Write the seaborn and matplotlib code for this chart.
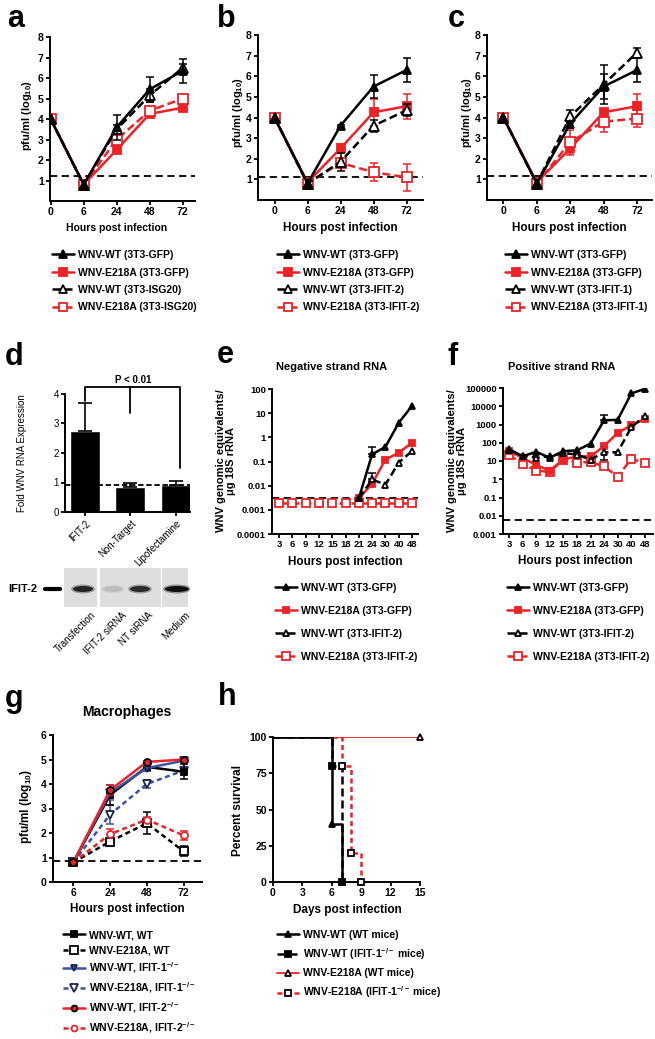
import numpy as np
import seaborn as sns
import matplotlib.pyplot as plt
from matplotlib.lines import Line2D
from matplotlib.patches import Rectangle, Ellipse
from matplotlib.ticker import NullLocator

W, H = 655, 1039
nan = np.nan

# ---------------- data ----------------
# panels a-c: virus titre (log10 pfu/ml)
hpi_abc = ['0', '6', '24', '48', '72']

a_wt_gfp = [4.0, 0.8, 3.6, 5.45, 6.35]
a_wt_gfp_err = [0, 0, 0.6, 0.6, 0.6]
a_e218a_gfp = [4.0, 0.8, 2.5, 4.25, 4.55]
a_e218a_gfp_err = [0, 0, 0.1, 0.1, 0.1]
a_wt_isg20 = [4.0, 0.8, 3.5, 5.15, 6.5]
a_wt_isg20_err = [0, 0, 0.2, 0.3, 0.2]
a_e218a_isg20 = [4.0, 0.8, 3.0, 4.4, 5.0]
a_e218a_isg20_err = [0, 0, 0.2, 0.2, 0.15]

b_wt_gfp = [4.0, 0.8, 3.6, 5.5, 6.3]
b_wt_gfp_err = [0, 0, 0.05, 0.55, 0.6]
b_e218a_gfp = [4.0, 0.85, 2.5, 4.25, 4.55]
b_e218a_gfp_err = [0, 0, 0.2, 0.65, 0.6]
b_wt_ifit2 = [4.0, 0.8, 1.85, 3.6, 4.35]
b_wt_ifit2_err = [0, 0, 0.45, 0.3, 0.3]
b_e218a_ifit2 = [4.0, 0.8, 1.8, 1.35, 1.1]
b_e218a_ifit2_err = [0, 0, 0.2, 0.45, 0.65]

c_wt_gfp = [4.0, 0.8, 3.7, 5.5, 6.3]
c_wt_gfp_err = [0, 0, 0.1, 0.6, 0.6]
c_e218a_gfp = [4.0, 0.85, 2.5, 4.25, 4.55]
c_e218a_gfp_err = [0, 0, 0.2, 0.1, 0.6]
c_wt_ifit1 = [4.0, 0.8, 4.05, 5.6, 7.15]
c_wt_ifit1_err = [0, 0, 0.3, 0.95, 0.2]
c_e218a_ifit1 = [4.0, 0.8, 2.8, 3.8, 3.95]
c_e218a_ifit1_err = [0, 0, 0.6, 0.5, 0.4]

lod_a, lod_b, lod_c = 1.2, 1.1, 1.15

# panel d: siRNA knockdown
d_cats = ['IFIT-2', 'Non-Target', 'Lipofectamine']
d_vals = [2.75, 0.85, 0.92]
d_err = [0.95, 0.12, 0.12]
d_ref = 0.9
blot_lanes = ['Transfection', 'IFIT-2 siRNA', 'NT siRNA', 'Medium']
blot_band = [0.85, 0.12, 0.8, 1.0]

# panels e-f: strand-specific RNA
hpi_ef = ['3', '6', '9', '12', '15', '18', '21', '24', '30', '40', '48']
e_wt_gfp = [nan, nan, nan, nan, nan, nan, 0.003, 0.2, 0.4, 4.0, 20.0]
e_e218a_gfp = [nan, nan, nan, nan, nan, nan, 0.003, 0.012, 0.12, 0.23, 0.6]
e_wt_ifit2 = [nan, nan, nan, nan, nan, nan, 0.003, 0.018, 0.011, 0.09, 0.27]
e_e218a_ifit2 = [0.002, 0.002, 0.002, 0.002, 0.002, 0.002, 0.002, 0.002, 0.002, 0.002, 0.002]
e_wt_gfp_up = [0, 0, 0, 0, 0, 0, 0, 0.2, 0, 0, 0]
e_wt_ifit2_up = [0, 0, 0, 0, 0, 0, 0, 0.017, 0, 0, 0]
lod_e = 0.003

f_wt_gfp = [45, 18, 32, 15, 35, 38, 90, 1700, 1800, 50000, 90000]
f_e218a_gfp = [35, 15, 6, 3, 12, 18, 18, 65, 350, 900, 2000]
f_wt_ifit2 = [40, 20, 15, 18, 28, 22, 12, 30, 30, 700, 3000]
f_e218a_ifit2 = [22, 7, 3, 2.5, 12, 8, 9, 5, 1.4, 13, 8]
f_wt_gfp_up = [0, 0, 0, 0, 0, 0, 0, 1800, 0, 0, 0]
f_wt_ifit2_lo = [0, 0, 0, 0, 0, 0, 0, 18, 0, 0, 0]
f_wt_ifit2_up = [0, 0, 0, 0, 0, 0, 0, 30, 0, 0, 0]
lod_f = 0.006

# panel g: macrophages
hpi_g = ['6', '24', '48', '72']
g_wt_wt = [0.8, 3.55, 4.7, 4.5]
g_wt_wt_err = [0, 0.4, 0.15, 0.3]
g_e218a_wt = [0.8, 1.65, 2.4, 1.25]
g_e218a_wt_err = [0, 0.1, 0.45, 0.2]
g_wt_ifit1 = [0.8, 3.65, 4.65, 4.95]
g_wt_ifit1_err = [0, 0.3, 0.1, 0.1]
g_e218a_ifit1 = [0.8, 2.75, 4.0, 4.55]
g_e218a_ifit1_err = [0, 0.4, 0.15, 0.1]
g_wt_ifit2 = [0.8, 3.75, 4.9, 5.0]
g_wt_ifit2_err = [0, 0.2, 0.05, 0.05]
g_e218a_ifit2 = [0.8, 1.95, 2.55, 1.9]
g_e218a_ifit2_err = [0, 0.2, 0.1, 0.2]
lod_g = 0.85

# panel h: survival
h_wt_wt_days, h_wt_wt_surv = [0, 6, 7], [100, 40, 0]
h_wt_ko_days, h_wt_ko_surv = [0, 6, 7], [100, 80, 0]
h_e_wt_days, h_e_wt_surv = [0, 15], [100, 100]
h_e_ko_days, h_e_ko_surv = [0, 7, 8, 9], [100, 80, 20, 0]

# ---------------- style ----------------
sns.set_style('ticks', {'axes.edgecolor': 'black', 'xtick.color': 'black',
                        'ytick.color': 'black', 'text.color': 'black',
                        'axes.labelcolor': 'black'})
plt.rcParams['font.family'] = ['Liberation Sans', 'DejaVu Sans']
plt.rcParams['font.weight'] = 'bold'
plt.rcParams['mathtext.fontset'] = 'custom'
plt.rcParams['mathtext.rm'] = 'Liberation Sans:bold'
plt.rcParams['mathtext.it'] = 'Liberation Sans:bold'
plt.rcParams['mathtext.bf'] = 'Liberation Sans:bold'
plt.rcParams['axes.linewidth'] = 1.4

RED = '#ec2227'
BLUE = '#3a53a4'
DASH = (0, (3.2, 1.6))
DOT = (0, (2, 1.4))

fig = plt.figure(figsize=(W / 100, H / 100), dpi=100)


def panel_axes(l, t, r, b, fs=7.5):
    ax = fig.add_axes([l / W, 1 - b / H, (r - l) / W, (b - t) / H])
    sns.despine(ax=ax)
    ax.tick_params(direction='out', length=3, width=1.3, labelsize=fs, pad=1.5)
    return ax


def ftext(x, y, s, **kw):
    kw.setdefault('ha', 'center')
    kw.setdefault('va', 'center')
    fig.text(x / W, 1 - y / H, s, **kw)


def letter(x, y, s):
    fig.text(x / W, 1 - y / H, s, fontsize=22, va='baseline', ha='left')


def series(ax, y, color, ls, marker, filled, label, err=None, ms=6, lw=1.8, mec=None, z=2):
    y = np.asarray(y, dtype=float)
    x = np.arange(len(y))
    sns.lineplot(x=x, y=y, ax=ax, color=color, linestyle=ls, linewidth=lw,
                 marker=marker, markersize=ms,
                 markerfacecolor=color if filled else 'white',
                 markeredgecolor=mec or color, markeredgewidth=1.3,
                 label=label, zorder=z, errorbar=None)
    if err is not None:
        lo, hi = err if isinstance(err, tuple) else (err, err)
        lo = np.asarray(lo, float)
        hi = np.asarray(hi, float)
        keep = (lo + hi) > 0
        ax.errorbar(x[keep], y[keep], yerr=[lo[keep], hi[keep]], fmt='none',
                    ecolor=color, elinewidth=1.1, capsize=3, capthick=1.1,
                    zorder=z - 0.5, label='_nolegend_')


def put_legend(ax, x, y, spacing, fs=7.5, handles=None, labels=None):
    if handles is None:
        handles, labels = ax.get_legend_handles_labels()
    ax.legend(handles, labels, loc='upper left',
              bbox_to_anchor=(x / W, 1 - y / H), bbox_transform=fig.transFigure,
              frameon=False, fontsize=fs, labelspacing=spacing,
              handlelength=2.1, handletextpad=0.35, borderpad=0,
              borderaxespad=0, numpoints=1, markerscale=0.85)


# ---------------- panels a-c ----------------
abc = [
    ('a', (50, 37, 195, 201), (-0.02, 4.37), lod_a, 'ISG20',
     [a_wt_gfp, a_e218a_gfp, a_wt_isg20, a_e218a_isg20],
     [a_wt_gfp_err, a_e218a_gfp_err, a_wt_isg20_err, a_e218a_isg20_err],
     (7, 27), (27, 115), (117, 228, 7.5), 52),
    ('b', (258, 35, 423, 200), (-0.5, 4.5), lod_b, 'IFIT-2',
     [b_wt_gfp, b_e218a_gfp, b_wt_ifit2, b_e218a_ifit2],
     [b_wt_gfp_err, b_e218a_gfp_err, b_wt_ifit2_err, b_e218a_ifit2_err],
     (217, 27), (238, 112), (340, 228, 8.5), 277),
    ('c', (487, 35, 652, 200), (-0.49, 4.45), lod_c, 'IFIT-1',
     [c_wt_gfp, c_e218a_gfp, c_wt_ifit1, c_e218a_ifit1],
     [c_wt_gfp_err, c_e218a_gfp_err, c_wt_ifit1_err, c_e218a_ifit1_err],
     (448, 27), (467, 112), (569, 228, 8.5), 505),
]
for name, box, xl, lod, cell, vals, errs, lpos, ypos, xpos, legx in abc:
    ax = panel_axes(*box)
    series(ax, vals[0], 'black', '-', '^', True, 'WNV-WT (3T3-GFP)', errs[0], z=5)
    series(ax, vals[1], RED, '-', 's', True, 'WNV-E218A (3T3-GFP)', errs[1], z=3)
    series(ax, vals[2], 'black', DASH, '^', False, f'WNV-WT (3T3-{cell})', errs[2], ms=7, z=4)
    series(ax, vals[3], RED, DASH, 's', False, f'WNV-E218A (3T3-{cell})', errs[3], ms=7, z=3)
    ax.axhline(lod, color='black', ls=(0, (4, 2.5)), lw=1.3, zorder=1)
    ax.set_xlim(*xl)
    ax.set_ylim(0, 8)
    ax.set_xticks(range(len(hpi_abc)))
    ax.set_xticklabels(hpi_abc)
    ax.set_yticks(range(1, 9))
    ax.set_xlabel('')
    ax.set_ylabel('')
    letter(lpos[0], lpos[1], name)
    ftext(ypos[0], ypos[1], 'pfu/ml (log$_{10}$)', rotation=90, fontsize=8)
    ftext(xpos[0], xpos[1], 'Hours post infection', fontsize=xpos[2])
    put_legend(ax, legx, 250, 0.72)

# ---------------- panel d ----------------
ax = panel_axes(65, 394, 190, 512)
sns.barplot(x=d_cats, y=d_vals, color='black', width=0.66, saturation=1,
            errorbar=None, ax=ax)
ax.errorbar(range(len(d_vals)), d_vals, yerr=[[0] * len(d_err), d_err], fmt='none',
            ecolor='black', elinewidth=1.2, capsize=5, capthick=1.2)
ax.axhline(d_ref, color='black', ls=(0, (3, 1.5)), lw=1.3)
ax.plot([0, 0, 2.1, 2.1], [3.75, 4.25, 4.25, 1.5], color='black', lw=1.3, clip_on=False)
ax.plot([1, 1], [4.25, 3.35], color='black', lw=1.3, clip_on=False)
ax.set_xlim(-0.44, 2.31)
ax.set_ylim(0, 4)
ax.set_yticks(range(0, 5))
ax.set_xticks(range(len(d_cats)))
ax.set_xticklabels(d_cats, rotation=45, ha='right', rotation_mode='anchor',
                   fontsize=7, fontweight='normal')
plt.setp(ax.get_yticklabels(), fontweight='normal', fontsize=7)
ax.set_xlabel('')
ax.set_ylabel('')
letter(5, 365, 'd')
ftext(133, 380, 'P < 0.01', fontsize=7)
ftext(22, 453, 'Fold WNV RNA Expression', rotation=90, fontsize=7, fontweight='normal')

# western blot strip
axb = fig.add_axes([63 / W, 1 - 608 / H, 127 / W, 42 / H])
axb.set_xlim(63, 190)
axb.set_ylim(608, 566)
axb.axis('off')
for x0, wd in [(64, 33), (100, 61), (162, 26)]:
    axb.add_patch(Rectangle((x0, 568), wd, 39, facecolor='#dedede', edgecolor='none'))
lane_x = [83, 113, 140, 177]
for lx, inten, lab in zip(lane_x, blot_band, blot_lanes):
    bw = 24 if lab == 'Medium' else 20
    axb.add_patch(Ellipse((lx, 589), bw + 4, 9, facecolor='black', alpha=inten * 0.35,
                          edgecolor='none'))
    axb.add_patch(Ellipse((lx, 589), bw, 6, facecolor='black', alpha=inten * 0.9,
                          edgecolor='none'))
    axb.text(lx + 8, 610, lab, rotation=45, ha='right', va='top', rotation_mode='anchor',
             fontsize=7, fontweight='normal', clip_on=False)
ftext(8, 589, 'IFIT-2', ha='left', fontsize=8)
fig.add_artist(Line2D([45 / W, 60 / W], [1 - 589 / H, 1 - 589 / H], color='black', lw=3))

# ---------------- panels e-f ----------------
ef = [
    ('e', (272, 389, 418, 534), (-0.53, 10.45), (1e-4, 100), lod_e,
     [e_wt_gfp, e_e218a_gfp, e_wt_ifit2, e_e218a_ifit2],
     [(np.zeros(11), e_wt_gfp_up), None, (np.zeros(11), e_wt_ifit2_up), None],
     ['0.0001', '0.001', '0.01', '0.1', '1', '10', '100'],
     'Negative strand RNA', (217, 363), (332, 367), (226, 461), (345, 562), 275),
    ('f', (503, 388, 653, 534), (-0.44, 10.6), (1e-3, 1e5), lod_f,
     [f_wt_gfp, f_e218a_gfp, f_wt_ifit2, f_e218a_ifit2],
     [(np.zeros(11), f_wt_gfp_up), None, (f_wt_ifit2_lo, f_wt_ifit2_up), None],
     ['0.001', '0.01', '0.1', '1', '10', '100', '1000', '10000', '100000'],
     'Positive strand RNA', (448, 365), (562, 367), (457, 461), (575, 561), 507),
]
for name, box, xl, yl, lod, vals, errs, ylabs, title, lpos, tpos, ypos, xpos, legx in ef:
    ax = panel_axes(*box, fs=6.8)
    ax.set_yscale('log')
    series(ax, vals[0], 'black', '-', '^', True, 'WNV-WT (3T3-GFP)', errs[0], ms=4.5, z=5)
    series(ax, vals[1], RED, '-', 's', True, 'WNV-E218A (3T3-GFP)', errs[1], ms=5, z=4)
    series(ax, vals[2], 'black', DASH, '^', False, 'WNV-WT (3T3-IFIT-2)', errs[2], ms=5, z=4)
    series(ax, vals[3], RED, DASH, 's', False, 'WNV-E218A (3T3-IFIT-2)', errs[3], ms=6, z=3)
    ax.axhline(lod, color='black', ls=(0, (4, 2.5)), lw=1.3, zorder=1)
    ax.set_xlim(*xl)
    ax.set_ylim(*yl)
    ax.set_yticks([float(v) for v in ylabs])
    ax.set_yticklabels(ylabs)
    ax.yaxis.set_minor_locator(NullLocator())
    ax.set_xticks(range(len(hpi_ef)))
    ax.set_xticklabels(hpi_ef)
    ax.set_xlabel('')
    ax.set_ylabel('')
    letter(lpos[0], lpos[1], name)
    ftext(tpos[0], tpos[1], title, fontsize=8)
    ftext(ypos[0], ypos[1], 'WNV genomic equivalents/\nμg 18S rRNA', rotation=90,
          fontsize=8, multialignment='center', linespacing=1.1)
    ftext(xpos[0], xpos[1], 'Hours post infection', fontsize=8.5)
    put_legend(ax, legx, 583, 1.25)

# ---------------- panel g ----------------
ax = panel_axes(53, 735, 202, 882)
series(ax, g_wt_wt, 'black', '-', 's', True, 'WNV-WT, WT', g_wt_wt_err, ms=5, z=4)
series(ax, g_e218a_wt, 'black', DOT, 's', False, 'WNV-E218A, WT', g_e218a_wt_err, ms=6, z=3)
series(ax, g_wt_ifit1, BLUE, '-', 'v', True, 'WNV-WT, IFIT-1$^{-/-}$', g_wt_ifit1_err,
       ms=5.5, mec='#1a2350', z=4)
series(ax, g_e218a_ifit1, BLUE, DOT, 'v', False, 'WNV-E218A, IFIT-1$^{-/-}$',
       g_e218a_ifit1_err, ms=6, mec='#1a2350', z=3)
series(ax, g_wt_ifit2, RED, '-', 'o', True, 'WNV-WT, IFIT-2$^{-/-}$', g_wt_ifit2_err,
       ms=5, mec='black', z=5)
series(ax, g_e218a_ifit2, RED, DOT, 'o', False, 'WNV-E218A, IFIT-2$^{-/-}$',
       g_e218a_ifit2_err, ms=5, z=3)
ax.axhline(lod_g, color='black', ls=(0, (4, 2.5)), lw=1.3, zorder=1)
ax.set_xlim(-0.55, 3.5)
ax.set_ylim(0, 6)
ax.set_yticks(range(0, 7))
ax.set_xticks(range(len(hpi_g)))
ax.set_xticklabels(hpi_g)
ax.set_xlabel('')
ax.set_ylabel('')
letter(5, 707, 'g')
ftext(127, 712, 'Macrophages', fontsize=10)
ftext(26, 806, 'pfu/ml (log$_{10}$)', rotation=90, fontsize=8.5)
ftext(127, 909, 'Hours post infection', fontsize=8.5)
put_legend(ax, 63, 930, 0.5)

# ---------------- panel h ----------------
ax = panel_axes(273, 737, 420, 882)
h_series = [
    (h_e_wt_days, h_e_wt_surv, RED, '-', 1.3, '^', 'white', 'black', 'WNV-E218A (WT mice)'),
    (h_e_ko_days, h_e_ko_surv, RED, DOT, 1.8, 's', 'white', 'black',
     'WNV-E218A (IFIT-1$^{-/-}$ mice)'),
    (h_wt_ko_days, h_wt_ko_surv, 'black', DASH, 1.8, 's', 'black', 'black',
     'WNV-WT (IFIT-1$^{-/-}$ mice)'),
    (h_wt_wt_days, h_wt_wt_surv, 'black', '-', 1.8, '^', 'black', 'black', 'WNV-WT (WT mice)'),
]
h_handles = {}
for days, surv, color, ls, lw, mk, mfc, mec, lab in h_series:
    sns.lineplot(x=days, y=surv, ax=ax, color=color, linestyle=ls, linewidth=lw,
                 drawstyle='steps-post', estimator=None, errorbar=None)
    ax.plot(days[1:], surv[1:], ls='none', marker=mk, markersize=5,
            markerfacecolor=mfc, markeredgecolor=mec, markeredgewidth=1.3,
            clip_on=False, zorder=6)
    h_handles[lab] = Line2D([0], [0], color=color, ls=ls, lw=lw, marker=mk, markersize=5,
                            markerfacecolor=mfc, markeredgecolor=mec, markeredgewidth=1.3)
ax.set_xlim(0, 15)
ax.set_ylim(0, 100)
ax.set_xticks(range(0, 16, 3))
ax.set_yticks(range(0, 101, 25))
ax.set_xlabel('')
ax.set_ylabel('')
letter(218, 705, 'h')
ftext(238, 810, 'Percent survival', rotation=90, fontsize=8.5)
ftext(347, 910, 'Days post infection', fontsize=8.5)
h_order = ['WNV-WT (WT mice)', 'WNV-WT (IFIT-1$^{-/-}$ mice)', 'WNV-E218A (WT mice)',
           'WNV-E218A (IFIT-1$^{-/-}$ mice)']
put_legend(ax, 277, 930, 0.6, handles=[h_handles[k] for k in h_order], labels=h_order)

fig.savefig('out.png', dpi=100)
